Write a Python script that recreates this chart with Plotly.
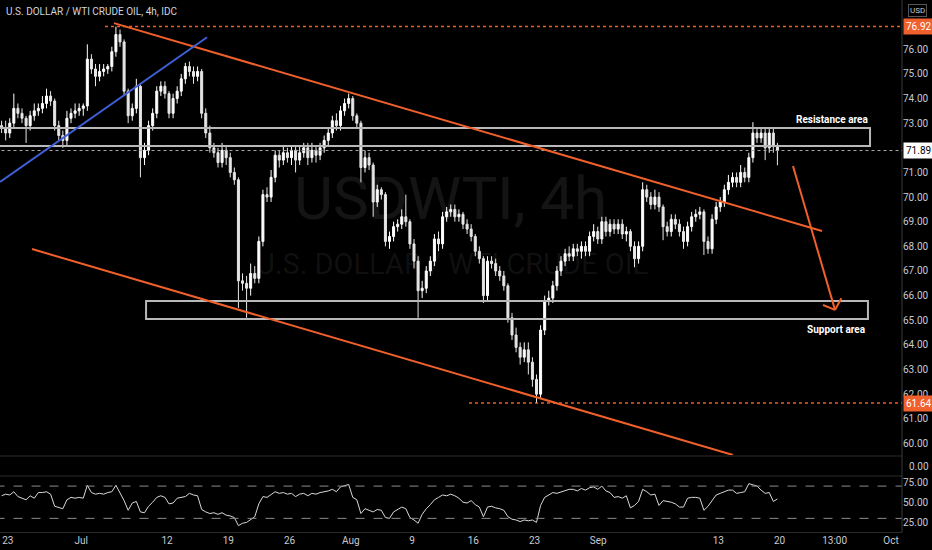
import plotly.graph_objects as go

# ---------------- data ----------------
first_open = 72.9
closes = [
    72.8, 72.6, 73.0, 73.6, 73.4, 73.2, 72.9, 73.3, 73.5, 73.6,
    73.8, 74.1, 73.9, 72.9, 72.5, 72.3, 73.2, 73.4, 73.5, 73.6,
    73.7, 75.6, 75.2, 74.9, 75.1, 75.2, 75.3, 75.9, 76.6, 76.3,
    74.3, 73.3, 73.6, 74.5, 71.6, 71.9, 72.9, 73.4, 74.3, 74.5,
    74.2, 73.4, 74.0, 74.3, 74.8, 75.3, 75.1, 74.9, 75.1, 73.4,
    72.6, 72.0, 71.8, 71.4, 71.9, 71.6, 71.0, 70.7, 66.6, 66.5,
    66.3, 66.9, 66.7, 68.2, 70.1, 70.0, 70.8, 71.7, 71.5, 71.8,
    71.6, 71.9, 71.5, 71.8, 72.0, 71.6, 71.9, 71.7, 72.0, 72.3,
    72.6, 73.1, 72.9, 73.5, 73.8, 74.0, 73.3, 73.0, 71.2, 71.6,
    71.3, 69.8, 70.3, 70.1, 68.2, 68.4, 68.8, 68.9, 69.2, 69.0,
    68.1, 67.4, 66.2, 66.3, 67.0, 67.4, 68.3, 68.1, 69.2, 69.4,
    69.5, 69.2, 69.3, 68.9, 68.7, 68.4, 67.8, 67.5, 66.0, 67.4,
    67.3, 67.0, 66.8, 66.4, 65.1, 64.4, 63.9, 63.5, 63.8, 63.3,
    62.6, 62.0, 64.6, 65.8, 65.9, 66.4, 67.0, 67.4, 67.7, 67.6,
    67.9, 67.8, 68.0, 67.8, 68.4, 68.6, 68.3, 69.0, 68.6, 68.9,
    68.7, 68.9, 68.5, 68.6, 68.0, 67.5, 68.0, 70.3, 70.0, 69.7,
    70.0, 69.6, 68.8, 68.6, 69.1, 68.9, 68.6, 68.2, 68.8, 69.2,
    69.3, 69.4, 68.2, 67.9, 69.1, 69.6, 69.8, 70.3, 70.6, 70.8,
    70.6, 71.0, 70.8, 71.6, 72.6, 72.4, 72.6, 72.0, 72.6, 72.1, 71.89,
]
upper_wick = [
    0.2, 0.3, 0.2, 0.6, 0.2, 0.2, 0.1, 0.2, 0.3, 0.2,
    0.3, 0.3, 0.2, 0.1, 0.2, 0.2, 0.3, 0.2, 0.3, 0.2,
    0.1, 0.6, 0.2, 0.2, 0.3, 0.2, 0.1, 0.2, 0.32, 0.2,
    0.1, 0.1, 0.2, 0.3, 0.1, 0.3, 0.2, 0.2, 0.2, 0.2,
    0.2, 0.1, 0.2, 0.2, 0.2, 0.15, 0.2, 0.2, 0.2, 0.1,
    0.2, 0.3, 0.2, 0.2, 0.3, 0.2, 0.2, 0.2, 0.1, 0.3,
    0.3, 0.4, 0.3, 0.2, 0.2, 0.3, 0.3, 0.2, 0.2, 0.3,
    0.2, 0.2, 0.2, 0.3, 0.2, 0.2, 0.3, 0.2, 0.2, 0.2,
    0.2, 0.2, 0.3, 0.2, 0.2, 0.2, 0.1, 0.1, 0.1, 0.3,
    0.2, 0.1, 0.2, 0.1, 0.1, 0.2, 0.2, 0.2, 0.3, 0.9,
    0.1, 0.2, 0.2, 0.3, 0.2, 0.2, 0.2, 0.3, 0.2, 0.2,
    0.2, 0.2, 0.2, 0.1, 0.2, 0.2, 0.1, 0.2, 0.1, 0.2,
    0.2, 0.2, 0.2, 0.2, 0.1, 0.2, 0.3, 0.2, 0.3, 0.3,
    0.2, 0.2, 0.2, 0.2, 0.3, 0.2, 0.2, 0.2, 0.2, 0.3,
    0.2, 0.2, 0.2, 0.2, 0.2, 0.3, 0.2, 0.2, 0.2, 0.2,
    0.2, 0.2, 0.2, 0.2, 0.1, 0.2, 0.2, 0.3, 0.2, 0.2,
    0.3, 0.2, 0.1, 0.2, 0.2, 0.2, 0.2, 0.2, 0.2, 0.2,
    0.2, 0.2, 0.1, 0.2, 0.2, 0.2, 0.2, 0.2, 0.3, 0.2,
    0.2, 0.3, 0.2, 0.2, 0.44, 0.2, 0.2, 0.2, 0.2, 0.2, 0.1,
]
lower_wick = [
    0.2, 0.3, 0.2, 0.2, 0.2, 0.2, 0.7, 0.2, 0.2, 0.2,
    0.2, 0.2, 0.2, 0.2, 0.2, 0.3, 0.2, 0.2, 0.2, 0.2,
    0.3, 0.2, 0.2, 0.4, 0.2, 0.2, 0.2, 0.2, 0.2, 0.2,
    0.2, 0.3, 0.2, 0.2, 0.8, 0.3, 0.2, 0.2, 0.2, 0.2,
    0.2, 0.2, 0.2, 0.2, 0.2, 0.2, 0.2, 0.3, 0.2, 0.2,
    0.2, 0.2, 0.2, 0.2, 0.2, 0.3, 0.2, 0.2, 1.1, 0.3,
    1.2, 0.3, 0.2, 0.2, 0.2, 0.2, 0.2, 0.2, 0.3, 0.2,
    0.2, 0.3, 0.5, 0.2, 0.2, 0.3, 0.2, 0.3, 0.2, 0.2,
    0.2, 0.2, 0.2, 0.2, 0.2, 0.2, 0.2, 0.2, 0.6, 0.2,
    0.2, 0.6, 0.2, 0.2, 0.2, 0.3, 0.2, 0.2, 0.2, 0.2,
    0.2, 0.3, 1.1, 0.3, 0.2, 0.2, 0.2, 0.3, 0.2, 0.2,
    0.2, 0.2, 0.2, 0.2, 0.2, 0.2, 0.2, 0.2, 0.3, 0.2,
    0.2, 0.2, 0.2, 0.2, 0.2, 0.2, 0.2, 0.3, 0.2, 0.5,
    0.3, 0.36, 0.2, 0.2, 0.2, 0.2, 0.2, 0.2, 0.2, 0.2,
    0.2, 0.2, 0.3, 0.2, 0.2, 0.2, 0.2, 0.2, 0.2, 0.2,
    0.2, 0.2, 0.2, 0.3, 0.2, 0.35, 0.2, 0.2, 0.2, 0.2,
    0.2, 0.2, 0.55, 0.2, 0.2, 0.2, 0.2, 0.3, 0.2, 0.2,
    0.2, 0.2, 0.55, 0.2, 0.2, 0.2, 0.2, 0.2, 0.2, 0.2,
    0.2, 0.2, 0.2, 0.2, 0.2, 0.2, 0.2, 0.5, 0.2, 0.3, 0.6,
]
rsi = [
    58, 60, 59, 63, 57, 55, 53, 58, 55, 62,
    62, 63, 60, 45, 43, 42, 53, 56, 55, 56,
    55, 71, 62, 60, 61, 60, 62, 63, 71, 62,
    52, 40, 49, 51, 38, 37, 45, 50, 56, 58,
    56, 48, 49, 55, 56, 57, 61, 59, 58, 41,
    38, 36, 37, 35, 37, 34, 33, 31, 21, 24,
    25, 29, 32, 48, 57, 56, 60, 63, 61, 62,
    60, 61, 57, 60, 61, 58, 61, 60, 62, 63,
    64, 66, 63, 69, 71, 72, 56, 53, 36, 42,
    40, 38, 41, 40, 31, 30, 38, 41, 44, 42,
    31, 28, 24, 35, 42, 47, 53, 56, 59, 58,
    60, 58, 55, 50, 49, 52, 47, 44, 32, 44,
    45, 43, 42, 40, 32, 29, 28, 26, 28, 27,
    28, 25, 46, 56, 59, 62, 61, 63, 64, 66,
    66, 64, 67, 65, 68, 69, 66, 70, 64, 62,
    56, 57, 55, 58, 43, 46, 51, 66, 63, 59,
    60, 46, 52, 51, 50, 48, 44, 44, 55, 56,
    56, 55, 40, 45, 52, 59, 61, 63, 65, 65,
    61, 62, 63, 73, 71, 70, 65, 61, 62, 51, 54,
]

# time axis in trading days (Jul 12 = 0), 3 bars per day
start_day = -13.67
bars_per_day = 3
tick_days = [-13, -7, 0, 5, 10, 15, 20, 25, 30, 35.2, 45, 50, 54.5, 59.1]
tick_text = ["23", "Jul", "12", "19", "26", "Aug", "9", "16", "23", "Sep", "13", "20", "13:00", "Oct"]

price_ticks = [60, 61, 62, 63, 64, 65, 66, 67, 68, 69, 70, 71, 73, 74, 75, 76, 78]
rsi_ticks = [25, 50, 75]

# drawing anchors (day, price)
upper_trend = [(-4.33, 77.06), (53.47, 68.62)]
lower_trend = [(-11.02, 67.89), (46.2, 59.53)]
blue_trend = [(-13.63, 70.61), (3.27, 76.49)]
arrow_line = [(51.1, 71.26), (54.53, 65.42)]
arrow_head = [(53.55, 65.62), (54.53, 65.42), (55.05, 65.89)]
resistance_zone = (-14.0, 57.39, 72.07, 72.80)
support_zone = (-1.71, 57.22, 65.05, 65.78)
high_level = (76.92, -5.06)
low_level = (61.64, 24.65)
last_price = 71.89

# ---------------- build OHLC ----------------
n = len(closes)
assert n == len(upper_wick) == len(lower_wick) == len(rsi)
opens = [first_open] + closes[:-1]
highs = [max(o, c) + u for o, c, u in zip(opens, closes, upper_wick)]
lows = [min(o, c) - l for o, c, l in zip(opens, closes, lower_wick)]
xs = [start_day + (i + 0.5) / bars_per_day for i in range(n)]

W, H = 932, 550
def px(x):
    return x / W
def py(y):
    return 1 - y / H

ORANGE = "#f0602c"
BLUE = "#3f5fd6"
BOX = "#b8b8b8"
AXIS_TXT = "#c8cad0"
FONT = "Roboto"
x_right = 60.0

fig = go.Figure()
fig.add_trace(go.Candlestick(
    x=xs, open=opens, high=highs, low=lows, close=closes,
    increasing=dict(line=dict(color="#ffffff", width=1), fillcolor="#ffffff"),
    decreasing=dict(line=dict(color="#e6e6e6", width=1), fillcolor="#e6e6e6"),
    whiskerwidth=0, xaxis="x", yaxis="y", showlegend=False, hoverinfo="skip",
))
fig.add_trace(go.Scatter(
    x=xs, y=rsi, mode="lines", line=dict(color="#d8d8d8", width=1),
    xaxis="x", yaxis="y3", showlegend=False, hoverinfo="skip",
))

shapes = []
def seg(p0, p1, color, width, dash="solid", yref="y"):
    shapes.append(dict(type="line", xref="x", yref=yref, x0=p0[0], y0=p0[1],
                       x1=p1[0], y1=p1[1], line=dict(color=color, width=width, dash=dash)))

# zones
for (x0, x1, y0, y1) in (resistance_zone, support_zone):
    shapes.append(dict(type="rect", xref="x", yref="y", x0=x0, x1=x1, y0=y0, y1=y1,
                       line=dict(color=BOX, width=2), fillcolor="rgba(0,0,0,0)"))
# levels
seg((high_level[1], high_level[0]), (x_right, high_level[0]), ORANGE, 1.5, "dot")
seg((low_level[1], low_level[0]), (x_right, low_level[0]), ORANGE, 1.5, "dot")
seg((-14, last_price), (x_right, last_price), "#a8a8a8", 1, "dot")
# trend lines
seg(upper_trend[0], upper_trend[1], ORANGE, 2)
seg(lower_trend[0], lower_trend[1], ORANGE, 2)
seg(blue_trend[0], blue_trend[1], BLUE, 2)
seg(arrow_line[0], arrow_line[1], ORANGE, 2)
seg(arrow_head[0], arrow_head[1], ORANGE, 2)
seg(arrow_head[1], arrow_head[2], ORANGE, 2)
# RSI bands
for lvl in (70, 30):
    seg((-14, lvl), (x_right, lvl), "#8c8c8c", 1, "dash", yref="y3")
# pane separators
for yy in (456, 476, 532.5):
    shapes.append(dict(type="line", xref="paper", yref="paper", x0=0, x1=px(902),
                       y0=py(yy), y1=py(yy), line=dict(color="#2b2b2b", width=1)))
shapes.append(dict(type="line", xref="paper", yref="paper", x0=px(902), x1=px(902),
                   y0=py(0), y1=py(532.5), line=dict(color="#3a3a3a", width=1)))

annotations = [
    dict(text="U.S. DOLLAR / WTI CRUDE OIL, 4h, IDC", xref="paper", yref="paper",
         x=px(4), y=py(11), xanchor="left", yanchor="middle", showarrow=False,
         font=dict(family=FONT, size=10, color="#d1d4dc")),
    dict(text="USDWTI, 4h", xref="paper", yref="paper", x=px(450), y=py(198),
         xanchor="center", yanchor="middle", showarrow=False,
         font=dict(family=FONT, size=60, color="rgba(255,255,255,0.08)")),
    dict(text="U.S. DOLLAR / WTI CRUDE OIL", xref="paper", yref="paper", x=px(452), y=py(264),
         xanchor="center", yanchor="middle", showarrow=False,
         font=dict(family=FONT, size=29, color="rgba(255,255,255,0.08)")),
    dict(text="<b>Resistance area</b>", xref="x", yref="paper", x=57.39, y=py(120),
         xanchor="right", yanchor="middle", showarrow=False,
         font=dict(family=FONT, size=10, color="#ffffff")),
    dict(text="<b>Support area</b>", xref="x", yref="paper", x=57.22, y=py(329),
         xanchor="right", yanchor="middle", showarrow=False,
         font=dict(family=FONT, size=10, color="#ffffff")),
    dict(text="76.92", xref="paper", yref="y", x=px(903), y=high_level[0],
         xanchor="left", yanchor="middle", showarrow=False, bgcolor=ORANGE, borderpad=2,
         font=dict(family=FONT, size=10, color="#ffffff")),
    dict(text="61.64", xref="paper", yref="y", x=px(903), y=low_level[0],
         xanchor="left", yanchor="middle", showarrow=False, bgcolor=ORANGE, borderpad=2,
         font=dict(family=FONT, size=10, color="#ffffff")),
    dict(text="71.89", xref="paper", yref="y", x=px(903), y=last_price,
         xanchor="left", yanchor="middle", showarrow=False, bgcolor="#ffffff", borderpad=2,
         font=dict(family=FONT, size=10, color="#000000")),
    dict(text="USD", xref="paper", yref="paper", x=px(917), y=py(10),
         xanchor="center", yanchor="middle", showarrow=False, bgcolor="#000000",
         bordercolor="#555555", borderwidth=1, borderpad=1,
         font=dict(family=FONT, size=8, color=AXIS_TXT)),
    dict(text="0.00", xref="paper", yref="paper", x=px(907), y=py(466),
         xanchor="left", yanchor="middle", showarrow=False,
         font=dict(family=FONT, size=10, color=AXIS_TXT)),
]

fig.update_layout(
    width=W, height=H, margin=dict(l=0, r=0, t=0, b=0),
    paper_bgcolor="#000000", plot_bgcolor="#000000",
    showlegend=False, shapes=shapes, annotations=annotations,
    xaxis=dict(domain=[0, px(902)], range=[-13.633, x_right], anchor="free", position=py(532.5),
               tickvals=tick_days, ticktext=tick_text, showgrid=False, zeroline=False,
               showline=False, ticks="", rangeslider=dict(visible=False),
               tickfont=dict(family=FONT, size=10, color=AXIS_TXT)),
    yaxis=dict(domain=[py(455), 1], range=[59.53, 78.0], side="right", anchor="x",
               tickvals=price_ticks, ticktext=[f"{v:.2f}" for v in price_ticks],
               showgrid=False, zeroline=False, showline=False, ticks="",
               tickfont=dict(family=FONT, size=10, color=AXIS_TXT)),
    yaxis3=dict(domain=[py(532.5), py(476)], range=[12.5, 82.5], side="right", anchor="x",
                tickvals=rsi_ticks, ticktext=[f"{v:.2f}" for v in rsi_ticks],
                showgrid=False, zeroline=False, showline=False, ticks="",
                tickfont=dict(family=FONT, size=10, color=AXIS_TXT)),
)

fig.write_html("out.html", config={"displayModeBar": False},
               post_script="document.body.style.margin='0';document.body.style.background='#000';")
